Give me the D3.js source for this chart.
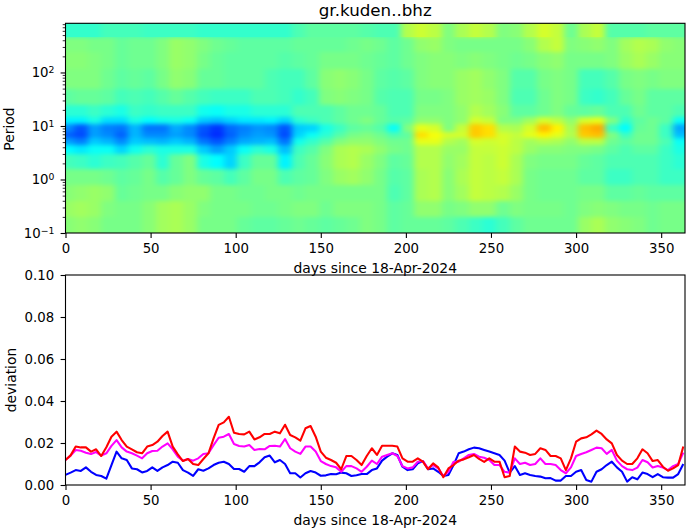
<!DOCTYPE html>
<html>
<head>
<meta charset="utf-8">
<script src="https://d3js.org/d3.v7.min.js"></script>
<style>
  body { margin: 0; background: #fff; }
  text { font-family: "DejaVu Sans", sans-serif; fill: #000; }
</style>
</head>
<body>
<svg id="chart" width="690" height="531" style="display:block"></svg>
<script>
// Title and axis labels
const titleText = "gr.kuden..bhz";
const xLabel = "days since 18-Apr-2024";

// Heatmap cell edges: days (8 day columns) and periods (rows, bottom to top)
const dayEdges = [-19,5,13,21,29,37,45,53,61,69,77,85,93,101,109,117,125,133,141,149,157,165,173,181,189,197,205,213,221,229,237,245,253,261,269,277,285,293,301,309,317,325,333,341,349,357,400];
const periodEdges = [0.04,0.2,0.4,0.8,1.6,3,4.5,6,8,11,15,25,50,120,250,480,2000];

// Heatmap values in percent of the colour range, one array per period row
const row0 = [51,52,51,49,49,49,51,54,55,53,49,49,49,47,46,46,47,48,47,46,47,48,50,49,46,47,47,47,46,44,42,40,43,46,48,48,48,48,53,55,52,51,50,48,49,49];
const row1 = [53,54,53,50,49,49,51,54,55,53,50,49,49,49,48,48,49,50,50,48,50,50,50,49,46,47,52,52,49,50,52,52,48,50,49,49,49,48,50,51,50,49,49,48,49,49];
const row2 = [51,52,53,52,47,48,49,49,51,52,52,49,49,48,48,49,49,48,49,49,49,49,49,49,44,46,55,56,51,54,58,57,56,53,49,48,48,48,49,49,46,46,47,46,46,46];
const row3 = [49,49,49,48,46,47,49,45,47,50,47,46,43,46,49,49,44,46,47,50,53,54,52,49,45,46,55,56,51,55,58,57,58,55,49,48,48,48,46,46,42,42,44,44,42,42];
const row4 = [43,42,40,42,43,45,47,40,47,50,38,35,31,42,47,47,34,44,47,51,55,56,53,50,46,47,56,56,52,54,58,57,59,55,50,49,49,49,47,46,44,44,44,44,42,40];
const row5 = [35,33,36,36,31,37,40,38,38,38,30,26,30,36,40,38,29,42,45,50,55,56,55,52,49,48,56,56,53,53,58,58,59,57,53,51,51,50,50,49,46,44,46,46,42,38];
const row6 = [26,23,30,28,24,30,29,28,30,28,22,19,23,27,28,29,22,37,41,45,50,52,52,50,48,48,62,62,56,54,60,59,60,57,54,56,55,52,57,57,48,46,48,48,44,36];
const row7 = [20,18,26,24,20,28,24,24,26,24,18,15,20,24,26,25,18,31,36,40,45,49,50,48,44,46,68,64,60,60,70,68,60,58,62,66,62,56,70,71,50,42,48,48,42,29];
const row8 = [24,19,26,23,22,28,22,22,27,24,19,16,21,23,25,24,19,30,31,38,42,46,47,45,36,50,62,60,50,58,70,68,56,55,60,71,66,55,71,73,42,35,47,48,42,27];
const row9 = [34,34,38,32,32,38,35,37,38,36,30,29,31,33,33,34,31,40,42,44,46,48,50,47,45,46,52,52,50,52,60,58,50,50,54,60,57,52,60,62,50,41,46,48,46,36];
const row10 = [40,40,42,40,38,42,41,42,42,42,37,36,38,38,40,40,40,44,44,44,46,48,48,47,44,44,50,50,50,52,56,54,51,46,46,48,50,47,46,47,44,44,48,46,46,44];
const row11 = [46,47,47,46,43,44,43,45,47,45,43,42,42,42,44,44,43,41,43,50,51,50,49,45,44,44,49,49,50,53,54,53,50,44,44,48,50,49,42,41,43,47,49,46,46,46];
const row12 = [50,50,50,48,46,47,46,49,52,51,47,47,46,46,46,44,43,43,46,51,52,51,49,46,45,46,50,51,51,53,54,52,50,45,45,49,50,49,43,43,45,49,50,49,50,50];
const row13 = [51,51,50,49,47,48,48,50,53,52,49,47,46,46,46,46,45,46,47,49,49,49,48,47,46,48,50,51,51,50,51,50,49,48,49,51,52,49,49,49,50,53,55,53,51,51];
const row14 = [50,50,49,49,47,48,48,50,53,52,50,48,47,46,46,46,46,47,47,47,47,48,49,48,46,48,52,53,50,49,49,49,49,49,51,56,58,50,51,52,50,54,56,55,52,51];
const row15 = [41,41,41,43,43,43,42,42,42,42,41,41,41,41,41,41,41,44,46,46,46,46,45,44,44,56,59,57,50,55,58,56,50,51,56,60,58,48,55,58,45,45,45,46,46,46];
const heatRows = [row0,row1,row2,row3,row4,row5,row6,row7,row8,row9,row10,row11,row12,row13,row14,row15];

// Deviation series, one value every 3 days
const days = [0,3,6,9,12,15,18,21,24,27,30,33,36,39,42,45,48,51,54,57,60,63,66,69,72,75,78,81,84,87,90,93,96,99,102,105,108,111,114,117,120,123,126,129,132,135,138,141,144,147,150,153,156,159,162,165,168,171,174,177,180,183,186,189,192,195,198,201,204,207,210,213,216,219,222,225,228,231,234,237,240,243,246,249,252,255,258,261,264,267,270,273,276,279,282,285,288,291,294,297,300,303,306,309,312,315,318,321,324,327,330,333,336,339,342,345,348,351,354,357,360,363];
const blueSeries = [.0048,.0059,.0071,.0067,.0084,.0063,.0048,.0043,.0030,.0095,.0159,.0127,.0119,.0079,.0075,.0060,.0067,.0084,.0067,.0084,.0095,.0111,.0106,.0071,.0059,.0043,.0075,.0068,.0079,.0095,.0106,.0111,.0100,.0076,.0076,.0063,.0090,.0090,.0108,.0132,.0140,.0108,.0119,.0100,.0056,.0056,.0036,.0056,.0067,.0059,.0044,.0046,.0052,.0051,.0059,.0056,.0043,.0046,.0052,.0052,.0071,.0079,
  .0116,.0135,.0151,.0143,.0087,.0071,.0075,.0103,.0114,.0075,.0079,.0063,.0043,.0048,.0095,.0151,.0159,.0170,.0178,.0175,.0167,.0159,.0151,.0143,.0116,.0059,.0090,.0048,.0056,.0048,.0043,.0040,.0032,.0033,.0021,.0021,.0043,.0043,.0063,.0071,.0024,.0016,.0063,.0075,.0095,.0111,.0084,.0063,.0016,.0037,.0027,.0059,.0052,.0037,.0052,.0037,.0035,.0035,.0052,.0100];
const magentaSeries = [.0119,.0140,.0167,.0163,.0154,.0148,.0157,.0140,.0151,.0186,.0214,.0179,.0159,.0151,.0140,.0127,.0151,.0162,.0163,.0183,.0198,.0170,.0135,.0116,.0124,.0116,.0127,.0148,.0151,.0190,.0225,.0230,.0243,.0195,.0186,.0183,.0190,.0167,.0171,.0170,.0186,.0187,.0183,.0219,.0175,.0159,.0148,.0183,.0183,.0159,.0114,.0100,.0090,.0084,.0063,.0090,.0090,.0079,.0063,.0087,.0116,.0100,
  .0135,.0143,.0151,.0138,.0090,.0079,.0084,.0111,.0114,.0079,.0095,.0079,.0043,.0063,.0111,.0111,.0127,.0143,.0148,.0135,.0130,.0119,.0095,.0095,.0063,.0059,.0127,.0100,.0106,.0095,.0100,.0127,.0100,.0100,.0095,.0071,.0056,.0084,.0138,.0148,.0156,.0167,.0178,.0175,.0148,.0167,.0116,.0090,.0075,.0071,.0083,.0119,.0108,.0083,.0090,.0083,.0071,.0090,.0100,.0154];
const redSeries = [.0119,.0141,.0183,.0179,.0179,.0159,.0170,.0138,.0180,.0230,.0254,.0214,.0183,.0170,.0156,.0151,.0183,.0190,.0206,.0233,.0254,.0183,.0146,.0114,.0124,.0100,.0095,.0124,.0151,.0222,.0286,.0298,.0325,.0249,.0243,.0241,.0254,.0217,.0227,.0243,.0243,.0254,.0246,.0287,.0238,.0227,.0211,.0270,.0281,.0230,.0159,.0130,.0119,.0106,.0075,.0138,.0138,.0119,.0095,.0138,.0175,.0143,
  .0187,.0187,.0187,.0183,.0127,.0111,.0111,.0127,.0111,.0075,.0103,.0084,.0037,.0079,.0095,.0116,.0122,.0132,.0143,.0124,.0110,.0127,.0111,.0111,.0037,.0043,.0183,.0159,.0154,.0143,.0148,.0175,.0167,.0138,.0138,.0127,.0071,.0127,.0206,.0222,.0227,.0241,.0259,.0243,.0217,.0198,.0143,.0116,.0100,.0100,.0127,.0170,.0151,.0114,.0119,.0087,.0068,.0079,.0095,.0183];

// Tick values
const dayTicks = [0,50,100,150,200,250,300,350];
const periodTicks = [0.1,1,10,100];
const deviationTicks = [0,0.02,0.04,0.06,0.08,0.1];

const svg = d3.select("#chart");
const left = 65.5, right = 685;

const x = d3.scaleLinear().domain([0, 364]).range([left, right]);
const yPeriod = d3.scaleLog().domain([0.1, 830]).range([233, 23.3]);
const yDev = d3.scaleLinear().domain([0, 0.1]).range([485, 275]);

// jet colour map
const jet = d3.scaleLinear()
  .domain([0, 11, 35, 50, 65, 89, 100])
  .range(["#000080", "#0000ff", "#00ffff", "#80ff80", "#ffff00", "#ff0000", "#800000"]);

const defs = svg.append("defs");
defs.append("clipPath").attr("id", "heatClip")
  .append("rect")
  .attr("x", left).attr("y", yPeriod.range()[1])
  .attr("width", right - left).attr("height", yPeriod.range()[0] - yPeriod.range()[1]);

// soften the cells, the source image is interpolated
function softFilter(id, dev) {
  defs.append("filter").attr("id", id)
    .attr("filterUnits", "userSpaceOnUse")
    .attr("x", 0).attr("y", -60).attr("width", 760).attr("height", 340)
    .attr("color-interpolation-filters", "sRGB")
    .append("feGaussianBlur").attr("stdDeviation", dev);
}
softFilter("soften", "3.2 2.2");
softFilter("softenX", "3.2 0");

// --- top panel ---
const heatClip = svg.append("g").attr("clip-path", "url(#heatClip)");
const heat = heatClip.append("g").attr("filter", "url(#soften)");
// top row keeps its sharp lower edge
const heatTop = heatClip.append("g").attr("filter", "url(#softenX)");

function drawRow(parent, row, r) {
  parent.selectAll(null)
    .data(row)
    .enter().append("rect")
    .attr("x", (d, c) => x(dayEdges[c]))
    .attr("width", (d, c) => x(dayEdges[c + 1]) - x(dayEdges[c]) + 0.5)
    .attr("y", yPeriod(periodEdges[r + 1]))
    .attr("height", yPeriod(periodEdges[r]) - yPeriod(periodEdges[r + 1]) + 0.5)
    .attr("shape-rendering", "crispEdges")
    .attr("fill", d => jet(d));
}
heatRows.forEach((row, r) => drawRow(heat, row, r));
drawRow(heatTop, row15, 15);

// --- bottom panel ---
const line = d3.line().x((d, i) => x(days[i])).y(d => yDev(d));
[[blueSeries, "#0000ff"], [magentaSeries, "#ff00ff"], [redSeries, "#ff0000"]].forEach(([s, color]) => {
  svg.append("path")
    .datum(s)
    .attr("d", line)
    .attr("fill", "none")
    .attr("stroke", color)
    .attr("stroke-width", 2.08)
    .attr("stroke-linejoin", "round");
});

// --- axes ---
function styleAxis(g) {
  g.select(".domain").remove();
  g.selectAll("line").attr("stroke", "#000").attr("stroke-width", 1.1);
  g.selectAll("text").attr("font-size", "13.3px").attr("font-family", "DejaVu Sans");
}

function frame(yScale) {
  svg.append("rect")
    .attr("x", left).attr("y", yScale.range()[1])
    .attr("width", right - left).attr("height", yScale.range()[0] - yScale.range()[1])
    .attr("fill", "none").attr("stroke", "#000").attr("stroke-width", 1.1);
}

[yPeriod, yDev].forEach(yScale => {
  svg.append("g")
    .attr("transform", `translate(0,${yScale.range()[0]})`)
    .call(d3.axisBottom(x).tickValues(dayTicks).tickFormat(d3.format("d")).tickSize(4.9).tickPadding(6))
    .call(styleAxis);
  frame(yScale);
});

// log axis with minor ticks
const minorTicks = yPeriod.ticks().filter(t => t >= 0.1 && t <= 830 && !periodTicks.includes(t));
svg.append("g")
  .attr("transform", `translate(${left},0)`)
  .call(d3.axisLeft(yPeriod).tickValues(minorTicks).tickFormat("").tickSize(2.8))
  .call(styleAxis)
  .selectAll("line").attr("stroke-width", 0.8);

const periodAxis = svg.append("g")
  .attr("transform", `translate(${left},0)`)
  .call(d3.axisLeft(yPeriod).tickValues(periodTicks).tickFormat("").tickSize(4.9))
  .call(styleAxis);
periodAxis.selectAll(".tick text").each(function(d) {
  const t = d3.select(this).attr("x", -11).attr("dy", "0.32em");
  t.append("tspan").text("10");
  t.append("tspan")
    .attr("dy", "-0.45em")
    .attr("font-size", "9.3px")
    .text(String(Math.round(Math.log10(d))).replace("-", "\u2212"));
});

svg.append("g")
  .attr("transform", `translate(${left},0)`)
  .call(d3.axisLeft(yDev).tickValues(deviationTicks).tickFormat(d3.format(".2f")).tickSize(4.9).tickPadding(6.5))
  .call(styleAxis);

// --- labels ---
svg.append("text").attr("x", (left + right) / 2).attr("y", 15.5)
  .attr("text-anchor", "middle").attr("font-size", "16.7px").text(titleText);

[273, 525].forEach(y => {
  svg.append("text").attr("x", (left + right) / 2).attr("y", y)
    .attr("text-anchor", "middle").attr("font-size", "13.9px").text(xLabel);
});

svg.append("text").attr("transform", "translate(13.5,129) rotate(-90)")
  .attr("text-anchor", "middle").attr("font-size", "13.9px").text("Period");
svg.append("text").attr("transform", "translate(15.5,380) rotate(-90)")
  .attr("text-anchor", "middle").attr("font-size", "13.9px").text("deviation");
</script>
</body>
</html>
